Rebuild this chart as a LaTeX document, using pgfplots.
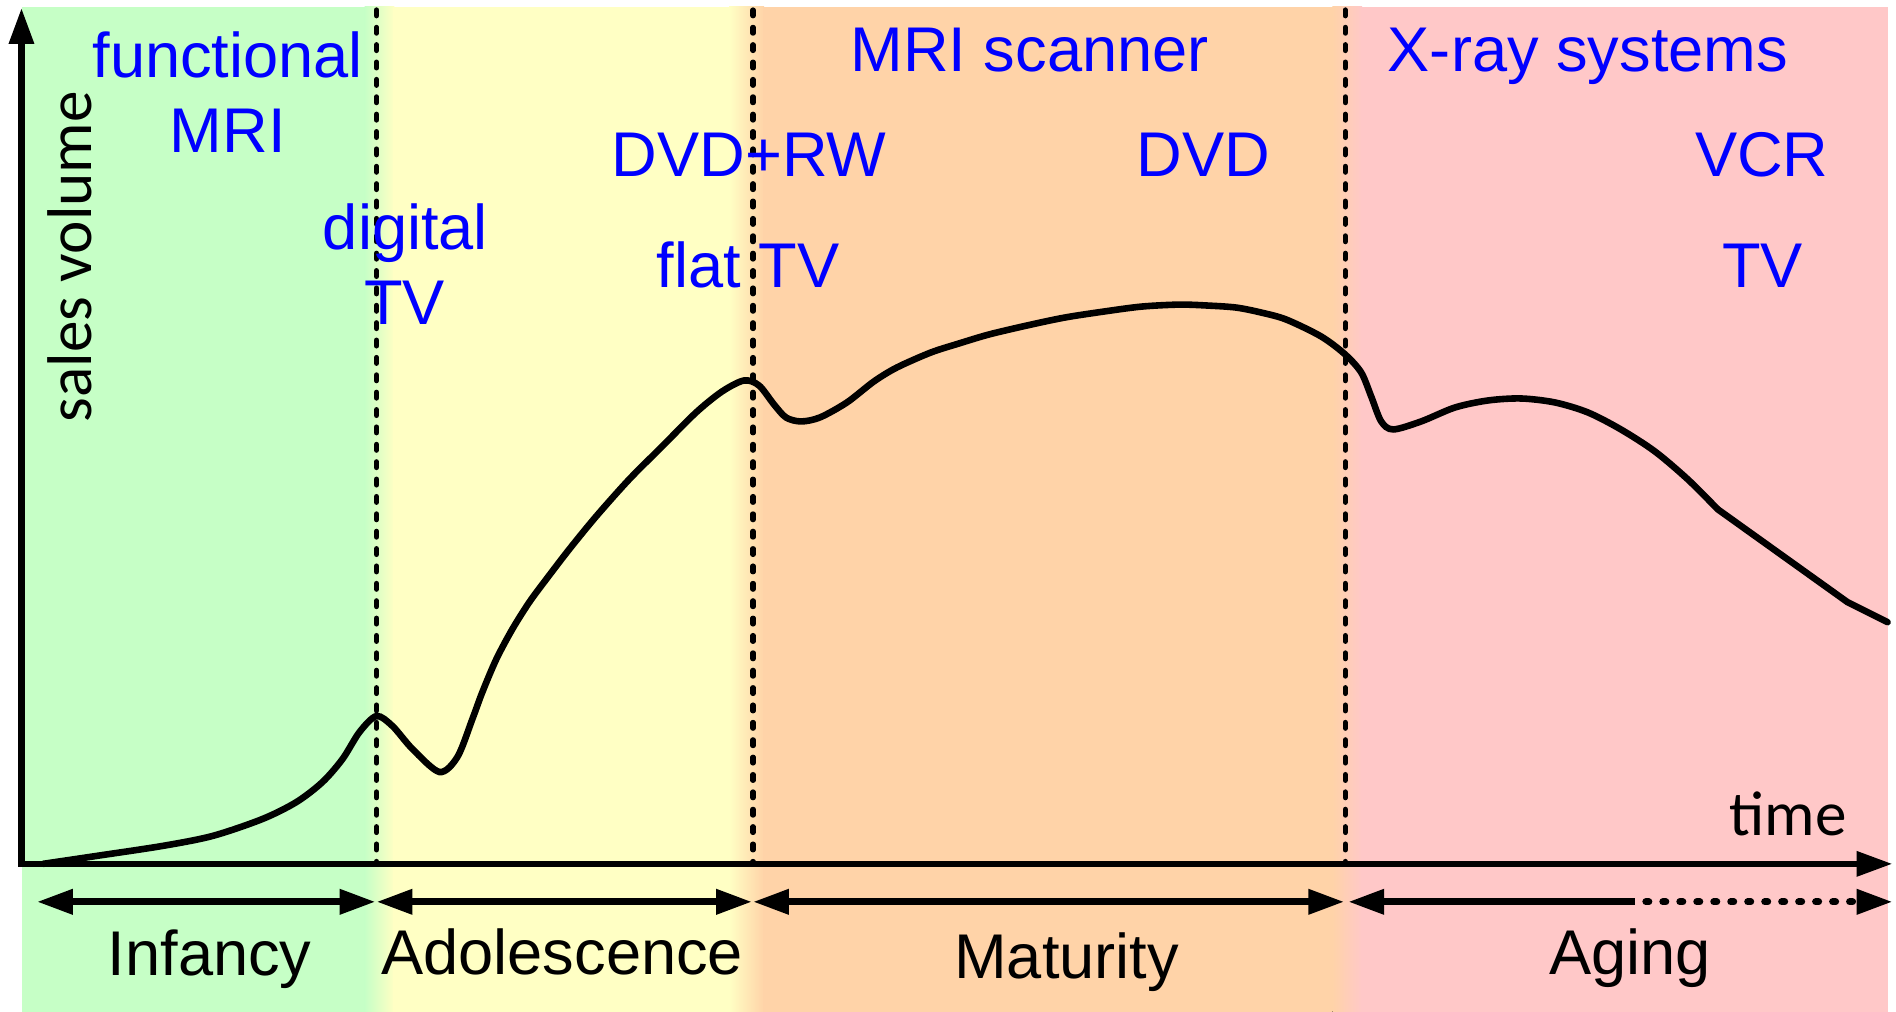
\documentclass[border=0pt]{standalone}
\usepackage{pgfplots}
\pgfplotsset{compat=1.18}
\usepackage{pgfplotstable}
\usepackage{fontspec}
\setmainfont{Liberation Sans}
\newfontfamily\calibri{Carlito}
\usetikzlibrary{arrows.meta}
\definecolor{cgreen}{RGB}{198,255,198}
\definecolor{cyellow}{RGB}{255,255,196}
\definecolor{corange}{RGB}{255,211,168}
\definecolor{cpink}{RGB}{255,200,200}
\definecolor{cblue}{RGB}{0,0,255}

% sales volume curve (x = time, y = pixel row, downward)
\pgfplotstableread{
x y
43 865
97 857
163 847
213 837
263 820
297 803
323 783
343 760
360 733
377 717
393 727
413 750
440 773
458 758
473 720
483 693
497 660
513 630
530 603
547 580
570 550
597 517
630 480
663 447
697 413
723 392
745 381
760 386
775 405
787 418
802 422
821 418
848 403
875 382
898 368
932 353
960 344
990 335
1028 326
1066 318
1105 312
1143 307
1181 305
1210 306
1238 308
1263 313
1288 320
1323 337
1347 355
1363 373
1373 397
1383 422
1395 430
1423 422
1457 408
1490 401
1523 399
1557 403
1590 413
1623 430
1657 452
1690 480
1720 510
}\curvesmooth
\pgfplotstableread{
x y
1720 510
1850 603
1890 623
}\curvetail

\tikzset{
  phase/.style={line width=0.52mm, line cap=round, dash pattern=on 0.58mm off 1.16mm},
  tri/.tip={Triangle[length=3.6mm,width=2.4mm]},
}

\begin{document}
\begin{tikzpicture}
\begin{axis}[
  x=0.1mm, y=0.1mm,
  xmin=0, xmax=1896, ymin=0, ymax=1013,
  y dir=reverse,
  hide axis, clip=false,
  scale only axis,
]
\path (axis cs:0,0) rectangle (axis cs:1896,1013);
% phase backgrounds
\fill[cgreen] (axis cs:22,7) rectangle (axis cs:366,1013);
\fill[left color=cgreen, right color=cyellow] (axis cs:365,7) rectangle (axis cs:395,1013);
\fill[cyellow] (axis cs:394,7) rectangle (axis cs:731,1013);
\fill[left color=cyellow, right color=corange] (axis cs:730,7) rectangle (axis cs:765,1013);
\fill[corange] (axis cs:764,7) rectangle (axis cs:1335,1013);
\fill[left color=corange, right color=cpink] (axis cs:1334,7) rectangle (axis cs:1364,1013);
\fill[cpink] (axis cs:1363,7) rectangle (axis cs:1890,1013);
% phase boundaries
\draw[phase] (axis cs:377,10) -- (axis cs:377,865);
\draw[phase] (axis cs:754,10) -- (axis cs:754,865);
\draw[phase] (axis cs:1347,10) -- (axis cs:1347,865);
% curve
\addplot[black, line width=0.66mm, smooth, tension=0.5, no marks] table {\curvesmooth};
\addplot[black, line width=0.66mm, sharp plot, no marks, line join=round, line cap=round] table {\curvetail};
% axes
\draw[line width=0.65mm, tri-tri]
  (axis cs:21.5,8) -- (axis cs:21.5,865) -- (axis cs:1895,865);
% phase arrows
\draw[line width=0.7mm, tri-tri] (axis cs:37,903) -- (axis cs:376,903);
\draw[line width=0.7mm, tri-tri] (axis cs:377,903) -- (axis cs:753,903);
\draw[line width=0.7mm, tri-tri] (axis cs:754,903) -- (axis cs:1346,903);
\draw[line width=0.7mm, tri-] (axis cs:1350,903) -- (axis cs:1637,903);
\draw[line width=0.7mm, line cap=round, dash pattern=on 0.3mm off 1.4mm]
  (axis cs:1648,903) -- (axis cs:1862,903);
\draw[line width=0.7mm, -tri] (axis cs:1862,903) -- (axis cs:1895,903);
% phase labels
\node[anchor=base, inner sep=0pt, font=\fontsize{18}{21}\selectfont] at (axis cs:210,977) {Infancy};
\node[anchor=base, inner sep=0pt, font=\fontsize{18}{21}\selectfont] at (axis cs:563,976) {Adolescence};
\node[anchor=base, inner sep=0pt, font=\fontsize{18}{21}\selectfont] at (axis cs:1068,980) {Maturity};
\node[anchor=base, inner sep=0pt, font=\fontsize{18}{21}\selectfont] at (axis cs:1632,976) {Aging};
% product labels
\node[anchor=base, inner sep=0pt, text=cblue, font=\fontsize{18}{21}\selectfont] at (axis cs:228,78) {functional};
\node[anchor=base, inner sep=0pt, text=cblue, font=\fontsize{18}{21}\selectfont] at (axis cs:228,153) {MRI};
\node[anchor=base, inner sep=0pt, text=cblue, font=\fontsize{18}{21}\selectfont] at (axis cs:406,250) {digital};
\node[anchor=base, inner sep=0pt, text=cblue, font=\fontsize{18}{21}\selectfont] at (axis cs:405,325) {TV};
\node[anchor=base, inner sep=0pt, text=cblue, font=\fontsize{18}{21}\selectfont] at (axis cs:750,177) {DVD+RW};
\node[anchor=base, inner sep=0pt, text=cblue, font=\fontsize{18}{21}\selectfont] at (axis cs:749,288) {flat TV};
\node[anchor=base, inner sep=0pt, text=cblue, font=\fontsize{18}{21}\selectfont] at (axis cs:1031,72) {MRI scanner};
\node[anchor=base, inner sep=0pt, text=cblue, font=\fontsize{18}{21}\selectfont] at (axis cs:1205,177) {DVD};
\node[anchor=base, inner sep=0pt, text=cblue, font=\fontsize{18}{21}\selectfont] at (axis cs:1590,72) {X-ray systems};
\node[anchor=base, inner sep=0pt, text=cblue, font=\fontsize{18}{21}\selectfont] at (axis cs:1764,177) {VCR};
\node[anchor=base, inner sep=0pt, text=cblue, font=\fontsize{18}{21}\selectfont] at (axis cs:1765,288) {TV};
% axis labels
\node[rotate=90, anchor=base, inner sep=0pt, font=\calibri\fontsize{18}{21}\selectfont] at (axis cs:92,257) {sales volume};
\node[anchor=base west, inner sep=0pt, font=\calibri\fontsize{18}{21}\selectfont] at (axis cs:1731,837) {time};
\end{axis}
\end{tikzpicture}
\end{document}
